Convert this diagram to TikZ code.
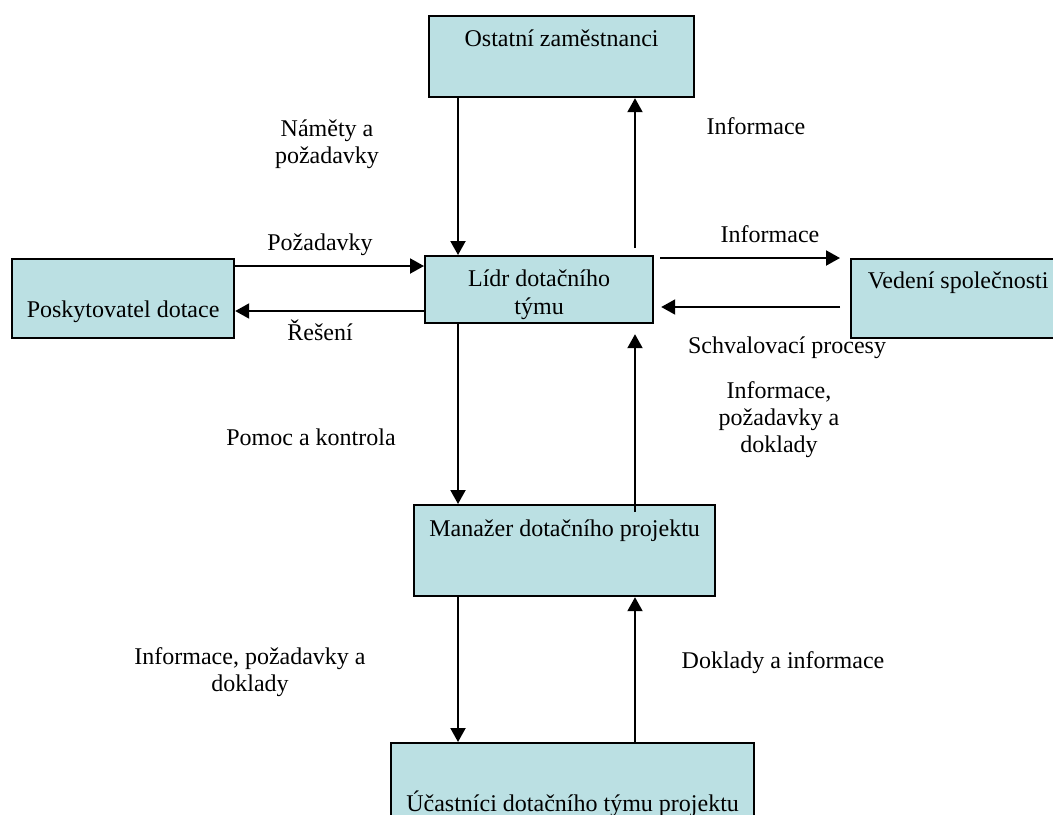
\documentclass[tikz,border=0pt]{standalone}
\usepackage{fontspec}
\setmainfont{Liberation Serif}
\usetikzlibrary{arrows.meta}
\definecolor{boxfill}{RGB}{187,224,227}

\begin{document}
\begin{tikzpicture}[x=0.5pt, y=-0.5pt,
    box/.style={draw, line width=1.1pt, fill=boxfill, anchor=north west,
      inner xsep=0pt, inner ysep=0pt, align=center, font=\fontsize{12}{14}\selectfont},
    lbl/.style={anchor=base, align=center, inner sep=0pt, font=\fontsize{12}{13.5}\selectfont},
    arr/.style={line width=1pt, -{Triangle[length=7pt, width=7.5pt]}}]
    \useasboundingbox (0,0) rectangle (1053,814);
    \clip (0,0) rectangle (1053,814);
    % bloky
    \node[box, minimum width=132.5pt, text height=15pt, text depth=25.5pt] (ostatni) at (428,15) {Ostatní zaměstnanci};
    \node[box, minimum width=114pt, text height=29pt, text depth=4.5pt] (lidr) at (424,255) {Lídr dotačního\\týmu};
    \node[box, minimum width=111pt, text height=29pt, text depth=10.5pt] (poskyt) at (11,258) {Poskytovatel dotace};
    \node[box, minimum width=107pt, text height=14.5pt, text depth=25pt] (vedeni) at (850,258) {Vedení společnosti};
    \node[box, minimum width=150.5pt, text height=15.5pt, text depth=30pt] (manazer) at (413,504) {Manažer dotačního projektu};
    \node[box, minimum width=181.5pt, text height=34pt, text depth=16pt] (ucastnici) at (390,742) {Účastníci dotačního týmu projektu};
    % popisky (base = posledni radek)
    \node[lbl] (namety) at (327,163) {Náměty a\\požadavky};
    \node[lbl] (infohore) at (756,134) {Informace};
    \node[lbl] (pozadavky) at (320,250) {Požadavky};
    \node[lbl] (reseni) at (320,340) {Řešení};
    \node[lbl] (infovpravo) at (770,242) {Informace};
    \node[lbl] (schval) at (787,353) {Schvalovací procesy};
    \node[lbl] (pomoc) at (311,445) {Pomoc a kontrola};
    \node[lbl] (infopozad) at (779,452) {Informace,\\požadavky a\\doklady};
    \node[lbl] (infodolu) at (250,691) {Informace, požadavky a\\doklady};
    \node[lbl] (doklady) at (783,668) {Doklady a informace};
    % sipky
    \coordinate (xl) at (458,0);
    \coordinate (xr) at (635,0);
    \draw[arr] (ostatni.south -| xl) -- (lidr.north -| xl);
    \draw[arr, shorten <=3.5pt] (lidr.north -| xr) -- (ostatni.south -| xr);
    \draw[arr] (poskyt.east |- 0,266) -- (lidr.west |- 0,266);
    \draw[arr] (lidr.west |- 0,311) -- (poskyt.east |- 0,311);
    \draw[arr, shorten <=3pt, shorten >=5pt] (lidr.east |- 0,258) -- (vedeni.west |- 0,258);
    \draw[arr, shorten <=5pt, shorten >=3.5pt] (vedeni.west |- 0,307) -- (lidr.east |- 0,307);
    \draw[arr] (lidr.south -| xl) -- (manazer.north -| xl);
    \draw[arr, shorten <=-4pt, shorten >=5pt] (manazer.north -| xr) -- (lidr.south -| xr);
    \draw[arr] (manazer.south -| xl) -- (ucastnici.north -| xl);
    \draw[arr] (ucastnici.north -| xr) -- (manazer.south -| xr);
\end{tikzpicture}
\end{document}
